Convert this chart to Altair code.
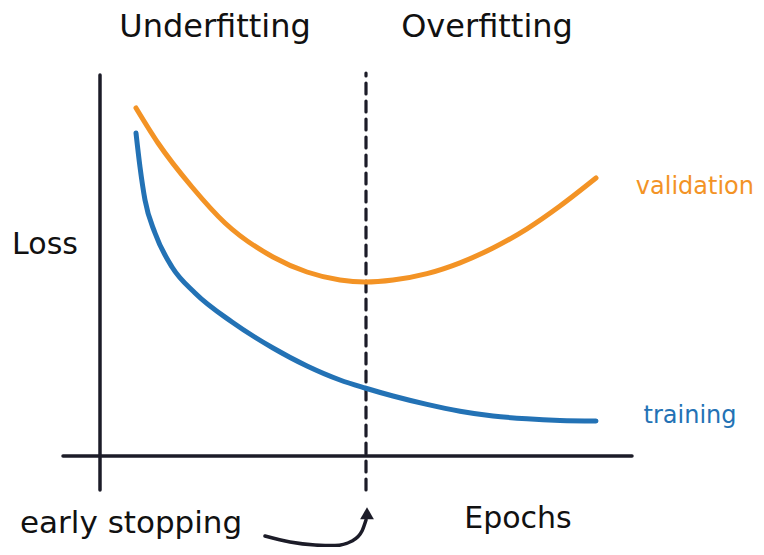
import altair as alt
import pandas as pd

# ---- data (epochs, loss in arbitrary units) ----
val_epoch = [7.2, 11.6, 18.4, 25, 34.6, 41.4, 48, 53, 58.6, 65.4, 72, 78.6, 85.4, 92, 99.2]
val_loss = [87, 78.25, 67.25, 58.25, 49.75, 46, 44, 43.5, 44.0, 45.6, 48.3, 52.0, 56.8, 62.5, 69.5]

train_epoch = [7.2, 8, 9, 11, 14.4, 19, 26.4, 34.6, 41.4, 48, 53, 58.6, 65.4, 72, 78.6, 85.4, 92, 99.2]
train_loss = [80.75, 72.25, 64, 55.75, 47.25, 40.75, 33.5, 27, 22.5, 19, 17, 15.0, 12.9, 11.2, 10.0, 9.3, 8.9, 8.75]

early_stop_epoch = 53.2

# annotation arrow path (epoch, loss)
arrow_epoch = [33, 38, 43, 47, 50.4, 52.4, 53.2]
arrow_loss = [-20, -21.5, -22.25, -22.4, -21.25, -18.75, -16]

# labels
titles = ["Underfitting", "Overfitting"]
title_x = [23, 77.4]
title_y = [104.75, 104.75]

series_labels = ["validation", "training"]
series_label_x = [130.8, 118]
series_label_y = [65.5, 8.25]
series_label_align = ["right", "center"]

axis_labels = ["Loss", "Epochs"]
axis_label_x = [-11, 83.6]
axis_label_y = [50.5, -18]

ORANGE = "#f39325"
BLUE = "#2372b5"
INK = "#1c1c28"
FONT = "DejaVu Sans"

xs = alt.Scale(domain=[-18.4, 131.2], nice=False, zero=False)
ys = alt.Scale(domain=[-22.75, 112], nice=False, zero=False)

def X(field, **kw):
    return alt.X(field, type="quantitative", scale=xs, axis=None, **kw)

def Y(field, **kw):
    return alt.Y(field, type="quantitative", scale=ys, axis=None, **kw)

val_df = pd.DataFrame({"epoch": val_epoch, "loss": val_loss, "i": range(len(val_epoch))})
train_df = pd.DataFrame({"epoch": train_epoch, "loss": train_loss, "i": range(len(train_epoch))})
arrow_df = pd.DataFrame({"epoch": arrow_epoch, "loss": arrow_loss, "i": range(len(arrow_epoch))})

# axes drawn as rules
yaxis = alt.Chart(pd.DataFrame({"x": [0], "y": [-8.5], "y2": [95.25]})).mark_rule(
    color=INK, strokeWidth=3.5, strokeCap="round"
).encode(x=X("x"), y=Y("y"), y2="y2")

xaxis = alt.Chart(pd.DataFrame({"y": [0], "x": [-7.4], "x2": [106.4]})).mark_rule(
    color=INK, strokeWidth=3.5, strokeCap="round"
).encode(y=Y("y"), x=X("x"), x2="x2")

stop = alt.Chart(pd.DataFrame({"x": [early_stop_epoch], "y": [-8.5], "y2": [95.75]})).mark_rule(
    color=INK, strokeWidth=3.2, strokeDash=[11, 7], strokeCap="round"
).encode(x=X("x"), y=Y("y"), y2="y2")

val_line = alt.Chart(val_df).mark_line(
    color=ORANGE, strokeWidth=5, strokeCap="round", interpolate="monotone"
).encode(x=X("epoch"), y=Y("loss"), order="i:Q")

train_line = alt.Chart(train_df).mark_line(
    color=BLUE, strokeWidth=5, strokeCap="round", interpolate="monotone"
).encode(x=X("epoch"), y=Y("loss"), order="i:Q")

arrow = alt.Chart(arrow_df).mark_line(
    color=INK, strokeWidth=3.5, strokeCap="round", interpolate="monotone"
).encode(x=X("epoch"), y=Y("loss"), order="i:Q")

arrow_head = alt.Chart(pd.DataFrame({"epoch": [53.4], "loss": [-14.3]})).mark_point(
    shape="triangle-up", filled=True, color=INK, opacity=1, size=190
).encode(x=X("epoch"), y=Y("loss"))

title_text = alt.Chart(pd.DataFrame({"t": titles, "x": title_x, "y": title_y})).mark_text(
    font=FONT, fontSize=32, color="#111111", align="center", baseline="alphabetic"
).encode(x=X("x"), y=Y("y"), text="t:N")

val_text = alt.Chart(pd.DataFrame({"t": [series_labels[0]], "x": [series_label_x[0]], "y": [series_label_y[0]]})).mark_text(
    font=FONT, fontSize=24, color=ORANGE, align=series_label_align[0], baseline="alphabetic"
).encode(x=X("x"), y=Y("y"), text="t:N")

train_text = alt.Chart(pd.DataFrame({"t": [series_labels[1]], "x": [series_label_x[1]], "y": [series_label_y[1]]})).mark_text(
    font=FONT, fontSize=24, color=BLUE, align=series_label_align[1], baseline="alphabetic"
).encode(x=X("x"), y=Y("y"), text="t:N")

axis_text = alt.Chart(pd.DataFrame({"t": axis_labels, "x": axis_label_x, "y": axis_label_y})).mark_text(
    font=FONT, fontSize=30, color="#111111", align="center", baseline="alphabetic"
).encode(x=X("x"), y=Y("y"), text="t:N")

es_text = alt.Chart(pd.DataFrame({"t": ["early stopping"], "x": [-16], "y": [-19.25]})).mark_text(
    font=FONT, fontSize=31, color="#111111", align="left", baseline="alphabetic"
).encode(x=X("x"), y=Y("y"), text="t:N")

chart = alt.layer(
    yaxis, xaxis, stop, val_line, train_line, arrow, arrow_head,
    title_text, val_text, train_text, axis_text, es_text
).properties(
    width=748, height=539, autosize=alt.AutoSizeParams(type="none"), padding=0
).configure_view(stroke=None)

chart.save("out.html", embed_options={"renderer": "svg", "actions": False})
